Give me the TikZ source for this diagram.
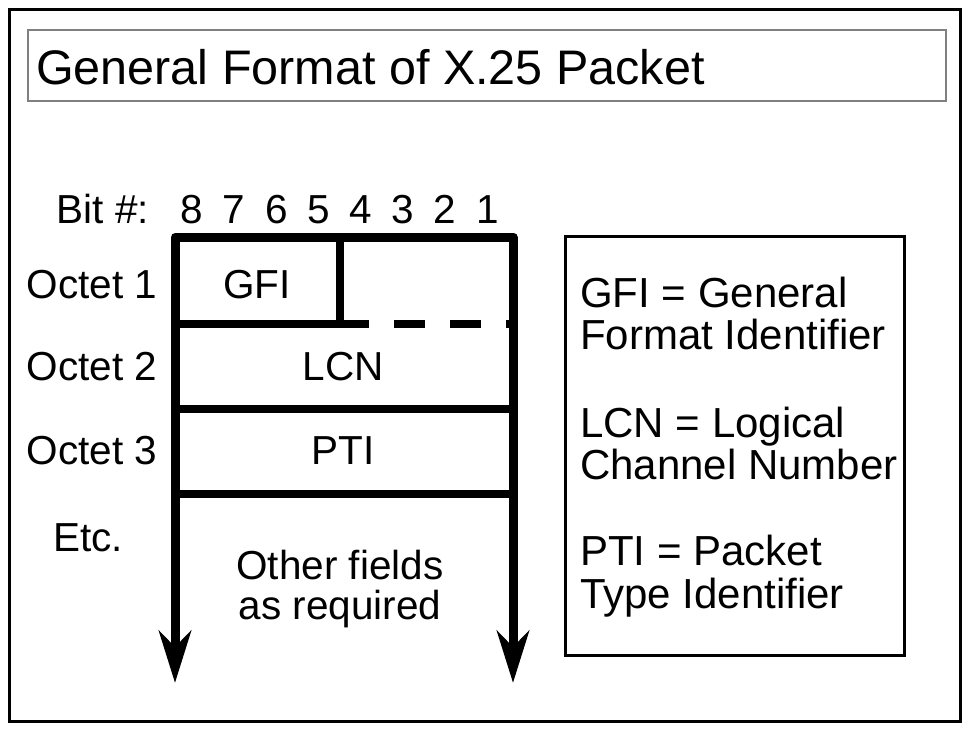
\documentclass[tikz,border=0pt]{standalone}
\usepackage{fontspec}
\setmainfont{Liberation Sans}
\usetikzlibrary{arrows.meta}
\begin{document}
\begin{tikzpicture}[x=1pt,y=-1pt,
  framepath/.style={line width=9pt, line join=round},
  rowline/.style={line width=8pt},
  lbl/.style={font=\fontsize{40.5}{40.5}\selectfont, inner sep=0pt, anchor=base},
  leg/.style={font=\fontsize{42}{42}\selectfont, inner sep=0pt, anchor=base west},
  tip/.style={Stealth[length=52pt,width=32pt,inset=16pt]}
]
\useasboundingbox (0,0) rectangle (968,729);
% outer border and title box
\draw[line width=3pt] (9,9) rectangle (960,721);
\draw[line width=1.2pt, gray] (28,30) rectangle (946,101);
\node[anchor=base west, inner sep=0pt, font=\fontsize{48.5}{48.5}\selectfont] (title) at (36,84) {General Format of X.25 Packet};

% frame coordinates
\coordinate (tl) at (175,237);
\coordinate (tr) at (513,237);
\coordinate (bl) at (175,683);
\coordinate (br) at (513,683);
\coordinate (dv) at (340,237);
\coordinate (g1l) at (175,324);
\coordinate (g1m) at (340,324);
\coordinate (g1d) at (338,324);
\coordinate (g1r) at (513,324);
\coordinate (l2l) at (175,409);
\coordinate (l2r) at (513,409);
\coordinate (l3l) at (175,494);
\coordinate (l3r) at (513,494);

\draw[framepath, {Stealth[length=52pt,width=32pt,inset=16pt]}-{Stealth[length=52pt,width=32pt,inset=16pt]}] (bl) -- (tl) -- (tr) -- (br);
\draw[line width=7.5pt] (dv) -- (g1m);
\draw[rowline] (g1l) -- (g1m);
\draw[rowline, dash pattern=on 31pt off 25pt] (g1d) -- (g1r);
\draw[rowline] (l2l) -- (l2r);
\draw[rowline] (l3l) -- (l3r);

% bit numbers
\node[lbl] (bit) at (103,223) {Bit \#:};
\foreach \b [count=\i from 0] in {8,7,6,5,4,3,2,1} {
  \node[lbl] (b\b) at ({192+42.2*\i},223) {\b};
}

% octet labels
\node[lbl] (o1) at (92,298) {Octet 1};
\node[lbl] (o2) at (92,380) {Octet 2};
\node[lbl] (o3) at (92,464) {Octet 3};
\node[lbl] (etc) at (88,551) {Etc.};

% field labels
\node[lbl] (gfi) at (257,298) {GFI};
\node[lbl] (lcn) at (343,380) {LCN};
\node[lbl] (pti) at (343,464) {PTI};
\node[lbl] (oth1) at (340,579) {Other fields};
\node[lbl] (oth2) at (340,619) {as required};

% legend
\draw[line width=3pt] (565,236) rectangle (904,655);
\node[leg] (lg1) at (580,307) {GFI = General};
\node[leg] (lg2) at (580,349) {Format Identifier};
\node[leg] (lg3) at (580,437) {LCN = Logical};
\node[leg] (lg4) at (580,479) {Channel Number};
\node[leg] (lg5) at (580,565) {PTI = Packet};
\node[leg] (lg6) at (580,608) {Type Identifier};
\end{tikzpicture}
\end{document}
